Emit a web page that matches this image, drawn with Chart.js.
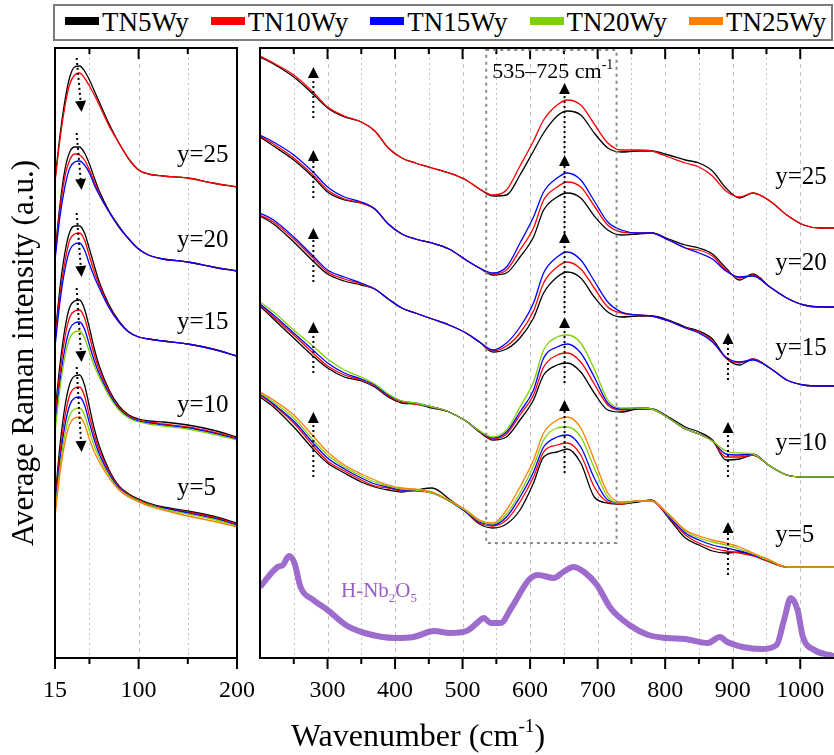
<!DOCTYPE html>
<html>
<head>
<meta charset="utf-8">
<title>Raman spectra TNxWy</title>
<script src="https://cdn.jsdelivr.net/npm/chart.js@4.4.0/dist/chart.umd.min.js"></script>
<style>
    html, body { margin: 0; padding: 0; background: #fff; overflow: hidden; }
    #page { position: relative; width: 834px; height: 755px; font-family: "Liberation Serif", "Times New Roman", serif; color: #000; }
    #lowBox { position: absolute; left: 0; top: 0; }
    #highBox { position: absolute; left: 240px; top: 0; }
    #legend {
        position: absolute; left: 53px; top: 4px; width: 780px; height: 37px; box-sizing: border-box;
        border: 2px solid #7b7b7b; display: flex; align-items: center; gap: 22px; padding-left: 10px;
        font-size: 27px; white-space: nowrap; line-height: 1;
    }
    .item { display: flex; align-items: center; }
    .swatch { width: 34px; height: 8px; margin-right: 3px; margin-top: -3px; }
    #xTitle { position: absolute; left: 0; width: 836px; top: 719px; text-align: center; font-size: 32px; line-height: 1; }
    #xTitle sup { font-size: 60%; line-height: 0; vertical-align: 0.75em; }
</style>
</head>
<body>
<div id="page">
    <div id="legend"></div>
    <canvas id="lowBox" width="262" height="755"></canvas>
    <canvas id="highBox" width="600" height="755"></canvas>
    <div id="xTitle">Wavenumber (cm<sup>-1</sup>)</div>
</div>
<script>
// Series / groups
const SERIES = ['TN5Wy', 'TN10Wy', 'TN15Wy', 'TN20Wy', 'TN25Wy'];
const COLORS = ['#000000', '#ff0000', '#0000ff', '#7fd000', '#ff8000'];
const GROUPS = ['y=25', 'y=20', 'y=15', 'y=10', 'y=5'];

// Low wavenumber window, 15-200 cm-1
const lowWn = [15, 20, 25, 30, 35, 40, 45, 50, 55, 60, 70, 80, 90, 100, 110, 125, 150, 175, 200];
const low25_TN5  = [480, 524, 559, 583, 593, 594, 589, 580, 569, 558, 536, 517, 501, 490, 486, 484, 482, 477, 473];
const low25_TN10 = [478, 520, 553, 576, 585, 587, 582, 574, 565, 555, 534, 517, 501, 490, 486, 484, 482, 477, 473];
const low20_TN5  = [406, 455, 490, 508, 513, 513, 507, 496, 482, 469, 449, 434, 421, 411, 405, 401, 398, 393, 389];
const low20_TN10 = [403, 450, 483, 500, 506, 505, 500, 490, 478, 466, 448, 433, 421, 411, 405, 401, 398, 393, 389];
const low20_TN15 = [400, 443, 473, 492, 498, 499, 495, 487, 475, 465, 448, 433, 421, 411, 405, 401, 398, 393, 389];
const low15_TN5  = [322, 372, 407, 428, 434, 434, 427, 411, 394, 378, 355, 339, 328, 323, 321, 319, 316, 311, 304];
const low15_TN10 = [318, 365, 398, 420, 426, 427, 420, 404, 388, 375, 353, 338, 328, 323, 321, 319, 316, 311, 304];
const low15_TN15 = [313, 358, 390, 410, 416, 417, 410, 396, 383, 372, 352, 338, 328, 323, 321, 319, 316, 311, 304];
const low10_TN5  = [247, 295, 331, 353, 359, 360, 351, 332, 311, 294, 270, 254, 245, 241, 239, 238, 235, 230, 223];
const low10_TN10 = [240, 287, 322, 343, 349, 350, 342, 324, 305, 290, 268, 252, 244, 240, 238, 236, 233, 228, 222];
const low10_TN15 = [233, 278, 311, 331, 337, 338, 331, 315, 299, 286, 266, 251, 243, 239, 237, 235, 232, 227, 221];
const low10_TN20 = [227, 271, 303, 322, 328, 329, 322, 308, 294, 283, 264, 250, 242, 238, 236, 234, 231, 226, 220];
const low5_TN5   = [160, 214, 253, 276, 284, 285, 275, 253, 231, 214, 190, 174, 166, 161, 157, 153, 149, 144, 137];
const low5_TN10  = [155, 206, 243, 265, 272, 273, 264, 244, 225, 210, 188, 173, 165, 160, 156, 152, 148, 143, 136];
const low5_TN15  = [151, 199, 234, 255, 262, 263, 255, 237, 220, 206, 186, 172, 164, 159, 155, 152, 147, 142, 135];
const low5_TN20  = [147, 192, 225, 245, 251, 252, 245, 229, 214, 202, 184, 171, 164, 159, 155, 151, 146, 141, 134];
const low5_TN25  = [143, 186, 217, 236, 242, 243, 236, 221, 208, 198, 182, 170, 163, 158, 154, 150, 144, 139, 133];

// High wavenumber window, 200-1050 cm-1
const highWn = [200, 220, 250, 280, 300, 325, 350, 370, 390, 410, 430, 455, 480, 505, 525, 545, 565, 585, 605, 620,
                640, 655, 675, 695, 715, 735, 760, 780, 805, 830, 850, 870, 890, 910, 930, 955, 980, 1005, 1030, 1050];
const high25_TN5  = [603, 596, 583, 565, 552, 543, 538, 529, 512, 502, 497, 492, 487, 480, 471, 464, 465, 485, 509, 527,
                     544, 549, 545, 527, 512, 508, 509, 509, 505, 500, 497, 489, 472, 462, 467, 459, 445, 435, 432, 432];
const high25_TN10 = [604, 597, 585, 567, 553, 544, 538, 529, 512, 502, 497, 492, 487, 480, 471, 465, 470, 494, 519, 540,
                     555, 560, 555, 536, 517, 510, 510, 509, 503, 497, 493, 484, 469, 463, 467, 459, 445, 435, 432, 432];
const high20_TN5  = [523, 514, 500, 482, 468, 460, 457, 451, 436, 426, 421, 417, 411, 400, 392, 385, 387, 403, 423, 450,
                     463, 467, 462, 444, 430, 425, 426, 427, 421, 415, 412, 406, 392, 380, 386, 373, 362, 355, 353, 353];
const high20_TN10 = [524, 516, 502, 484, 470, 461, 457, 451, 436, 426, 421, 417, 411, 400, 392, 386, 390, 410, 432, 460,
                     473, 478, 473, 454, 435, 428, 427, 427, 420, 412, 410, 404, 390, 382, 385, 373, 362, 355, 353, 353];
const high20_TN15 = [525, 518, 505, 487, 473, 463, 458, 451, 436, 426, 421, 417, 411, 400, 392, 387, 393, 417, 443, 468,
                     482, 487, 480, 459, 438, 430, 427, 427, 420, 412, 407, 401, 389, 383, 384, 373, 362, 355, 353, 353];
const high15_TN5  = [444, 436, 418, 398, 386, 379, 375, 371, 361, 352, 347, 341, 335, 327, 318, 308, 311, 322, 342, 367,
                     383, 388, 382, 363, 348, 343, 344, 344, 340, 333, 329, 321, 302, 295, 301, 292, 280, 275, 274, 274];
const high15_TN10 = [445, 438, 421, 401, 388, 381, 376, 371, 361, 352, 347, 341, 335, 327, 318, 309, 314, 327, 349, 377,
                     393, 398, 391, 372, 353, 347, 345, 344, 339, 332, 328, 319, 302, 297, 301, 292, 280, 275, 274, 274];
const high15_TN15 = [447, 440, 423, 403, 390, 383, 377, 371, 361, 352, 347, 341, 335, 327, 318, 310, 317, 333, 357, 387,
                     403, 408, 400, 379, 358, 348, 345, 344, 339, 332, 327, 318, 303, 298, 300, 292, 280, 275, 274, 274];
const high10_TN5  = [354, 341, 322, 303, 292, 283, 279, 273, 263, 257, 256, 252, 248, 239, 228, 220, 223, 240, 260, 285,
                     295, 297, 288, 267, 250, 248, 251, 251, 243, 233, 228, 220, 200, 201, 205, 194, 185, 183, 183, 183];
const high10_TN10 = [355, 343, 325, 306, 294, 285, 280, 274, 264, 258, 256, 253, 248, 239, 229, 221, 226, 245, 265, 293,
                     305, 307, 298, 276, 255, 250, 252, 251, 242, 231, 226, 219, 203, 203, 205, 194, 185, 183, 183, 183];
const high10_TN15 = [356, 345, 327, 309, 297, 287, 281, 275, 265, 259, 257, 253, 248, 239, 229, 222, 228, 248, 270, 302,
                     313, 316, 307, 283, 257, 251, 252, 251, 242, 231, 226, 219, 206, 205, 206, 194, 185, 183, 183, 183];
const high10_TN20 = [358, 348, 330, 313, 301, 290, 283, 276, 266, 259, 257, 253, 248, 239, 229, 223, 230, 253, 278, 310,
                     323, 325, 317, 291, 260, 252, 252, 251, 242, 231, 226, 219, 209, 207, 206, 194, 185, 183, 183, 183];
const high5_TN5   = [263, 253, 233, 210, 197, 187, 178, 173, 170, 168, 170, 172, 161, 148, 136, 132, 136, 150, 177, 203,
                     208, 211, 197, 163, 157, 156, 158, 160, 142, 122, 115, 109, 107, 108, 105, 98, 93, 93, 93, 93];
const high5_TN10  = [265, 255, 237, 213, 199, 189, 180, 174, 172, 169, 169, 167, 159, 148, 137, 134, 140, 158, 183, 208,
                     215, 217, 205, 173, 158, 156, 159, 159, 143, 125, 117, 112, 109, 107, 104, 98, 93, 93, 93, 93];
const high5_TN15  = [266, 256, 239, 216, 202, 191, 182, 176, 173, 170, 170, 167, 159, 148, 138, 135, 143, 163, 188, 213,
                     223, 225, 213, 182, 160, 157, 159, 159, 144, 127, 120, 115, 112, 109, 105, 99, 93, 93, 93, 93];
const high5_TN20  = [267, 258, 242, 219, 205, 193, 184, 178, 174, 171, 170, 167, 159, 149, 139, 136, 146, 167, 194, 220,
                     232, 233, 223, 192, 163, 157, 159, 159, 145, 129, 122, 118, 115, 111, 106, 99, 93, 93, 93, 93];
const high5_TN25  = [268, 260, 245, 223, 208, 195, 186, 180, 175, 172, 171, 168, 160, 150, 140, 137, 150, 173, 200, 227,
                     240, 243, 232, 200, 167, 158, 159, 159, 146, 130, 124, 120, 117, 113, 107, 100, 93, 93, 93, 93];

// H-Nb2O5 reference spectrum
const refWn = [200, 226, 234, 243, 251, 260, 279, 300, 327, 355, 400, 427, 458, 481, 506, 523, 531, 542, 556, 573,
               598, 612, 635, 649, 664, 680, 699, 719, 747, 775, 802, 830, 863, 881, 892, 915, 943, 965, 976, 986,
               996, 1004, 1021, 1043, 1050];
const refInt = [73, 93, 95, 104, 97, 73, 60, 50, 35, 27, 22, 23, 29, 27, 29, 38, 42, 37, 37, 53,
                80, 85, 82, 88, 93, 88, 75, 52, 35, 25, 22, 21, 17, 23, 18, 13, 11, 15, 40, 62,
                50, 23, 10, 5, 4];

// Axes
const LOW_TICKS = [15, 50, 100, 150, 200];
const LOW_LABELS = [15, 100, 200];
const LOW_GRID = [50, 100, 150];
const HIGH_TICKS = [250, 300, 350, 400, 450, 500, 550, 600, 650, 700, 750, 800, 850, 900, 950, 1000];
const HIGH_LABELS = [300, 400, 500, 600, 700, 800, 900, 1000];

// Annotations: group label heights, arrows [tail, tip]
const LOW_LABEL_Y = [505, 420, 338, 255, 172];
const HIGH_LABEL_Y = [483, 397, 312, 217, 125];
const LOW_ARROWS = [[602, 548], [527, 470], [447, 383], [372, 298], [293, 208]];
const ARROWS_279 = [[542, 593], [462, 510], [378, 432], [287, 338], [183, 248]];
const ARROWS_651 = [[507, 577], [427, 505], [347, 428], [277, 343], [187, 260]];
const ARROWS_893 = [[280, 327], [183, 238], [85, 138]];

Chart.defaults.font.family = '"Liberation Serif", "Times New Roman", serif';
Chart.defaults.color = '#000';

// Legend
const legend = document.getElementById('legend');
SERIES.forEach((name, i) => {
    legend.insertAdjacentHTML('beforeend',
        `<div class="item"><span class="swatch" style="background:${COLORS[i]}"></span>${name}</div>`);
});

const lowGroups = [
    [low25_TN5, low25_TN10],
    [low20_TN5, low20_TN10, low20_TN15],
    [low15_TN5, low15_TN10, low15_TN15],
    [low10_TN5, low10_TN10, low10_TN15, low10_TN20],
    [low5_TN5, low5_TN10, low5_TN15, low5_TN20, low5_TN25]
];
const highGroups = [
    [high25_TN5, high25_TN10],
    [high20_TN5, high20_TN10, high20_TN15],
    [high15_TN5, high15_TN10, high15_TN15],
    [high10_TN5, high10_TN10, high10_TN15, high10_TN20],
    [high5_TN5, high5_TN10, high5_TN15, high5_TN20, high5_TN25]
];

function buildSets(xs, groups) {
    const sets = [];
    groups.forEach(group => {
        group.forEach((vals, s) => {
            sets.push({
                label: SERIES[s],
                data: xs.map((x, i) => ({ x: x, y: vals[i] })),
                borderColor: COLORS[s],
                borderWidth: 1.3,
                pointRadius: 0,
                cubicInterpolationMode: 'monotone',
                order: 5 - s
            });
        });
    });
    return sets;
}

// Draw grid, frame and tick marks
const framePlugin = {
    id: 'frame',
    beforeDatasetsDraw(chart, args, o) {
        const { ctx, chartArea: a, scales: { x } } = chart;
        ctx.save();
        ctx.strokeStyle = '#c2c2c2';
        ctx.lineWidth = 1;
        o.grid.forEach(v => {
            const px = Math.round(x.getPixelForValue(v)) + 0.5;
            ctx.setLineDash(o.major.includes(v) ? [4, 4] : [2, 3]);
            ctx.beginPath();
            ctx.moveTo(px, a.top);
            ctx.lineTo(px, a.bottom);
            ctx.stroke();
        });
        ctx.restore();
    },
    afterDatasetsDraw(chart, args, o) {
        const { ctx, chartArea: a, scales: { x } } = chart;
        ctx.save();
        ctx.strokeStyle = '#000';
        ctx.lineWidth = 2;
        ctx.setLineDash([]);
        ctx.beginPath();
        if (o.closed) {
            ctx.rect(a.left, a.top, a.right - a.left, a.bottom - a.top);
        } else {
            ctx.moveTo(a.right + 4, a.top);
            ctx.lineTo(a.left, a.top);
            ctx.lineTo(a.left, a.bottom);
            ctx.lineTo(a.right + 4, a.bottom);
        }
        ctx.stroke();
        o.ticks.forEach(v => {
            const px = x.getPixelForValue(v);
            const len = o.major.includes(v) ? 11 : 6;
            ctx.beginPath();
            ctx.moveTo(px, a.bottom);
            ctx.lineTo(px, a.bottom + len);
            ctx.moveTo(px, a.top);
            ctx.lineTo(px, a.top + len);
            ctx.stroke();
        });
        ctx.restore();
    }
};

function drawArrow(ctx, x0, y0, x1, y1) {
    const ang = Math.atan2(y1 - y0, x1 - x0);
    const L = 11, W = 5.5;
    const bx = x1 - L * Math.cos(ang), by = y1 - L * Math.sin(ang);
    ctx.setLineDash([2, 3]);
    ctx.lineWidth = 2;
    ctx.beginPath();
    ctx.moveTo(x0, y0);
    ctx.lineTo(bx, by);
    ctx.stroke();
    ctx.setLineDash([]);
    ctx.beginPath();
    ctx.moveTo(x1, y1);
    ctx.lineTo(bx + W * Math.sin(ang), by - W * Math.cos(ang));
    ctx.lineTo(bx - W * Math.sin(ang), by + W * Math.cos(ang));
    ctx.closePath();
    ctx.fill();
}

function drawRich(ctx, x, y, parts, size) {
    let cx = x;
    parts.forEach(p => {
        const small = p.sub || p.sup;
        ctx.font = `${small ? Math.round(size * 0.62) : size}px "Liberation Serif"`;
        const dy = p.sub ? size * 0.24 : p.sup ? -size * 0.4 : 0;
        ctx.fillText(p.t, cx, y + dy);
        cx += ctx.measureText(p.t).width;
    });
}

// Labels, arrows, boxes
const notesPlugin = {
    id: 'notes',
    afterDatasetsDraw(chart, args, o) {
        const { ctx, scales: { x, y } } = chart;
        const X = v => x.getPixelForValue(v), Y = v => y.getPixelForValue(v);
        ctx.save();
        (o.boxes || []).forEach(b => {
            ctx.strokeStyle = '#8a8a8a';
            ctx.lineWidth = 2;
            ctx.setLineDash([3, 4]);
            ctx.strokeRect(X(b[0]), Y(b[3]), X(b[1]) - X(b[0]), Y(b[2]) - Y(b[3]));
        });
        ctx.strokeStyle = '#000';
        ctx.fillStyle = '#000';
        (o.arrows || []).forEach(ar => drawArrow(ctx, X(ar[0]), Y(ar[1]), X(ar[2]), Y(ar[3])));
        ctx.setLineDash([]);
        ctx.font = '25px "Liberation Serif"';
        ctx.textBaseline = 'middle';
        ctx.textAlign = 'left';
        (o.labels || []).forEach(l => ctx.fillText(l.text, X(l.x), Y(l.y)));
        ctx.textBaseline = 'alphabetic';
        (o.rich || []).forEach(r => {
            ctx.fillStyle = r.color;
            drawRich(ctx, X(r.x), Y(r.y), r.parts, r.size);
        });
        ctx.restore();
    }
};

function xScale(min, max, ticks, labels) {
    return {
        type: 'linear', min: min, max: max,
        afterBuildTicks: s => { s.ticks = ticks.map(v => ({ value: v })); },
        afterFit: s => { s.height = 60; s.paddingLeft = 0; s.paddingRight = 0; },
        grid: { display: false, drawTicks: false },
        border: { display: false },
        ticks: {
            autoSkip: false, maxRotation: 0, padding: 18, color: '#000',
            font: { size: 24 },
            callback: v => labels.includes(v) ? String(v) : ''
        }
    };
}

// Low wavenumber panel
new Chart(document.getElementById('lowBox'), {
    type: 'line',
    data: { datasets: buildSets(lowWn, lowGroups) },
    options: {
        responsive: false, animation: false, events: [],
        layout: { padding: { left: 0, right: 25, top: 48, bottom: 37 } },
        plugins: {
            legend: { display: false },
            tooltip: { enabled: false },
            frame: { grid: LOW_GRID, ticks: LOW_TICKS, major: LOW_LABELS, closed: true },
            notes: {
                arrows: LOW_ARROWS.map(a => [37, a[0], 42, a[1]]),
                labels: GROUPS.map((g, i) => ({ text: g, x: 139, y: LOW_LABEL_Y[i] }))
            }
        },
        scales: {
            x: xScale(15, 200, LOW_TICKS, LOW_LABELS),
            y: {
                type: 'linear', min: 2, max: 612,
                afterFit: s => { s.width = 55; },
                grid: { display: false, drawTicks: false },
                border: { display: false },
                ticks: { display: false },
                title: {
                    display: true, text: 'Average Raman intensity (a.u.)', color: '#000',
                    font: { size: 31 }, padding: { top: 6, bottom: 0 }
                }
            }
        }
    },
    plugins: [framePlugin, notesPlugin]
});

// High wavenumber panel
const highSets = buildSets(highWn, highGroups);
highSets.push({
    label: 'H-Nb2O5',
    data: refWn.map((x, i) => ({ x: x, y: refInt[i] })),
    borderColor: 'rgba(150, 95, 200, 0.92)',
    borderWidth: 6,
    pointRadius: 0,
    cubicInterpolationMode: 'monotone',
    order: 10
});

new Chart(document.getElementById('highBox'), {
    type: 'line',
    data: { datasets: highSets },
    options: {
        responsive: false, animation: false, events: [],
        layout: { padding: { left: 20, right: 6, top: 48, bottom: 37 } },
        plugins: {
            legend: { display: false },
            tooltip: { enabled: false },
            frame: { grid: HIGH_TICKS, ticks: HIGH_TICKS, major: HIGH_LABELS, closed: false },
            notes: {
                boxes: [[535, 728, 117, 610]],
                arrows: [
                    ...ARROWS_279.map(a => [279, a[0], 279, a[1]]),
                    ...ARROWS_651.map(a => [651, a[0], 651, a[1]]),
                    ...ARROWS_893.map(a => [893, a[0], 893, a[1]])
                ],
                labels: GROUPS.map((g, i) => ({ text: g, x: 963, y: HIGH_LABEL_Y[i] })),
                rich: [
                    { x: 544, y: 582, size: 22, color: '#000', parts: [{ t: '535\u2013725 cm' }, { t: '-1', sup: true }] },
                    { x: 320, y: 63, size: 21, color: '#9a5fc6',
                      parts: [{ t: 'H-Nb' }, { t: '2', sub: true }, { t: 'O' }, { t: '5', sub: true }] }
                ]
            }
        },
        scales: {
            x: xScale(200, 1050, HIGH_TICKS, HIGH_LABELS),
            y: { type: 'linear', display: false, min: 2, max: 612 }
        }
    },
    plugins: [framePlugin, notesPlugin]
});
</script>
</body>
</html>
